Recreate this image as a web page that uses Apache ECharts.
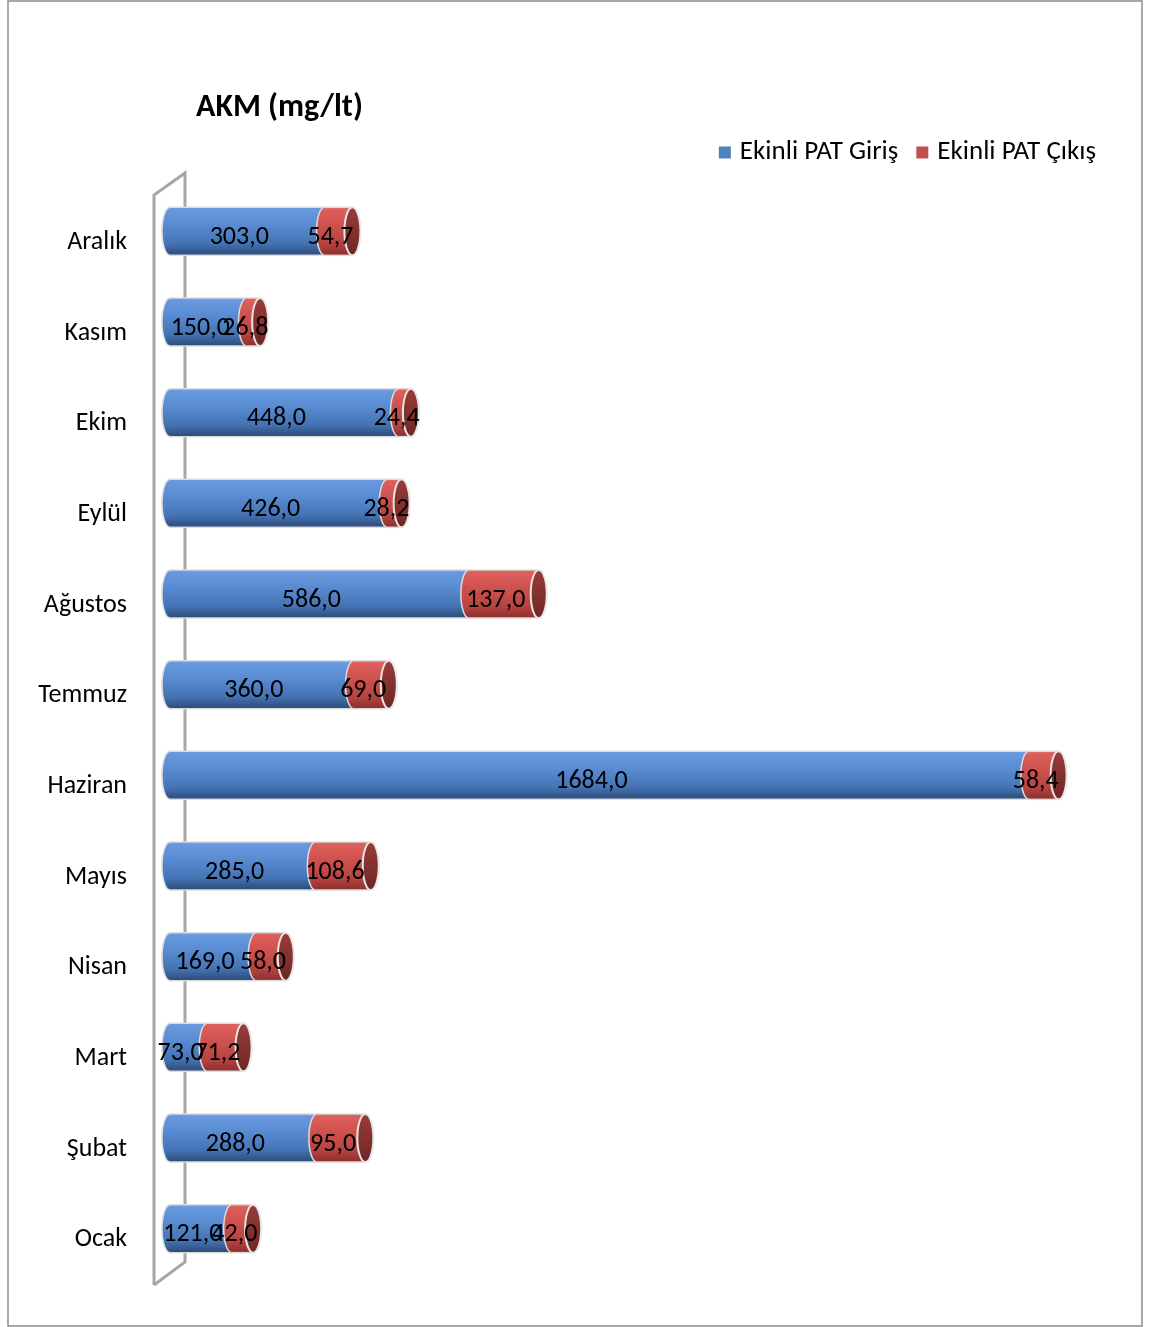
<!DOCTYPE html>
<html>
<head>
<meta charset="utf-8">
<script src="https://cdn.jsdelivr.net/npm/echarts@6/dist/echarts.min.js"></script>
<style>
  html, body { margin: 0; padding: 0; background: #ffffff; }
  #chart { width: 1150px; height: 1327px; }
</style>
</head>
<body>
<div id="chart"></div>
<script>
// Months, bottom to top on the category axis
const categories = ['Ocak', 'Şubat', 'Mart', 'Nisan', 'Mayıs', 'Haziran', 'Temmuz', 'Ağustos', 'Eylül', 'Ekim', 'Kasım', 'Aralık'];
// AKM (mg/lt) at the inlet and outlet
const girisValues = [121.0, 288.0, 73.0, 169.0, 285.0, 1684.0, 360.0, 586.0, 426.0, 448.0, 150.0, 303.0];
const cikisValues = [42.0, 95.0, 71.2, 58.0, 108.6, 58.4, 69.0, 137.0, 28.2, 24.4, 26.8, 54.7];
const seriesNames = ['Ekinli PAT Giriş', 'Ekinli PAT Çıkış'];

const FONT = 'Carlito, Lato, "Noto Sans", sans-serif';
const BAR_H = 48;   // cylinder thickness
const CAP_RX = 8;   // horizontal radius of the elliptic faces
const RIM = '#dcdcdc';

const chart = echarts.init(document.getElementById('chart'));

function grad(stops) {
  return new echarts.graphic.LinearGradient(0, 0, 0, 1, stops);
}
const blueFill = () => grad([
  { offset: 0, color: '#6b9be0' },
  { offset: 0.35, color: '#5a8cd3' },
  { offset: 0.75, color: '#4474b4' },
  { offset: 1, color: '#2b4a78' }
]);
const redFill = () => grad([
  { offset: 0, color: '#e0625f' },
  { offset: 0.35, color: '#d0524f' },
  { offset: 0.75, color: '#b64441' },
  { offset: 1, color: '#8a302e' }
]);
const capFill = () => grad([
  { offset: 0, color: '#9a3c3a' },
  { offset: 1, color: '#6e2624' }
]);

function fmt(v) {
  return v.toFixed(1).replace('.', ',');
}

// cylinder body: elliptic left face, body, top/bottom rims
function cylinder(x0, x1, cy, fill) {
  return [
    { type: 'ellipse', shape: { cx: x0, cy: cy, rx: CAP_RX, ry: BAR_H / 2 },
      style: { fill: fill(), stroke: RIM, lineWidth: 1.5 } },
    { type: 'rect', shape: { x: x0, y: cy - BAR_H / 2, width: Math.max(0, x1 - x0), height: BAR_H },
      style: { fill: fill() } },
    { type: 'line', shape: { x1: x0, y1: cy - BAR_H / 2, x2: x1, y2: cy - BAR_H / 2 },
      style: { stroke: RIM, lineWidth: 1.5 } },
    { type: 'line', shape: { x1: x0, y1: cy + BAR_H / 2, x2: x1, y2: cy + BAR_H / 2 },
      style: { stroke: RIM, lineWidth: 1.5 } }
  ];
}

function renderGiris(params, api) {
  const idx = api.value(1);
  const p0 = api.coord([0, idx]);
  const p1 = api.coord([api.value(0), idx]);
  return { type: 'group', children: cylinder(p0[0], p1[0], p0[1], blueFill) };
}

function renderCikis(params, api) {
  const idx = api.value(1);
  const start = api.value(2);
  const p0 = api.coord([start, idx]);
  const p1 = api.coord([start + api.value(0), idx]);
  const children = cylinder(p0[0], p1[0], p0[1], redFill);
  children.push({
    type: 'ellipse', shape: { cx: p1[0], cy: p1[1], rx: CAP_RX, ry: BAR_H / 2 },
    style: { fill: capFill(), stroke: '#e6e6e6', lineWidth: 2 }
  });
  return { type: 'group', children: children };
}

function renderLabels(params, api) {
  const idx = api.value(2);
  const g = api.value(0), c = api.value(1);
  const a = api.coord([0, idx]);
  const b = api.coord([g, idx]);
  const e = api.coord([g + c, idx]);
  const ty = a[1] + 6;
  const txt = (x, s) => ({
    type: 'text',
    style: { x: x, y: ty, text: s, fill: '#000', font: '26px ' + FONT, textAlign: 'center', textVerticalAlign: 'middle' }
  });
  return { type: 'group', children: [txt((a[0] + b[0]) / 2 - 8, fmt(g)), txt((b[0] + e[0]) / 2 - 8, fmt(c))] };
}

const gridTop = 186, gridBottom = 53, gridLeft = 170, gridRight = 62;

const option = {
  backgroundColor: '#ffffff',
  animation: false,
  title: {
    text: 'AKM (mg/lt)',
    left: 191, top: 87,
    textStyle: { fontFamily: FONT, fontSize: 32, fontWeight: 'bold', color: '#000' }
  },
  legend: {
    data: seriesNames,
    right: 49, top: 134,
    icon: 'rect', itemWidth: 12, itemHeight: 12, itemGap: 18,
    textStyle: { fontFamily: FONT, fontSize: 27, color: '#000', padding: [0, 0, 0, 4] }
  },
  grid: { left: gridLeft, right: gridRight, top: gridTop, bottom: gridBottom },
  xAxis: {
    type: 'value', min: 0, max: 1800,
    show: false
  },
  yAxis: {
    type: 'category',
    data: categories,
    axisLine: { show: false },
    axisTick: { show: false },
    axisLabel: { fontFamily: FONT, fontSize: 26, color: '#000', margin: 43, verticalAlign: 'top', lineHeight: 22 }
  },
  graphic: [
    // outer frame
    { type: 'rect', z: 0, shape: { x: 8, y: 1, width: 1134, height: 1325 },
      style: { fill: 'none', stroke: '#8c8c8c', lineWidth: 1.5 } },
    // back wall of the category axis
    { type: 'polyline', z: 0,
      shape: { points: [[154, 1285], [154, 195], [185, 173], [185, 1262], [154, 1285]] },
      style: { fill: 'none', stroke: '#a6a6a6', lineWidth: 3 } }
  ],
  series: [
    {
      name: seriesNames[0], type: 'custom', z: 3,
      itemStyle: { color: '#4f81bd' },
      renderItem: renderGiris,
      encode: { x: 0, y: 1 },
      data: girisValues.map((v, i) => [v, i])
    },
    {
      name: seriesNames[1], type: 'custom', z: 4,
      itemStyle: { color: '#c0504d' },
      renderItem: renderCikis,
      encode: { x: 0, y: 1 },
      data: cikisValues.map((v, i) => [v, i, girisValues[i]])
    },
    {
      name: 'etiketler', type: 'custom', z: 6, silent: true,
      renderItem: renderLabels,
      encode: { x: 0, y: 2 },
      data: girisValues.map((v, i) => [v, cikisValues[i], i])
    }
  ]
};

chart.setOption(option);
</script>
</body>
</html>
